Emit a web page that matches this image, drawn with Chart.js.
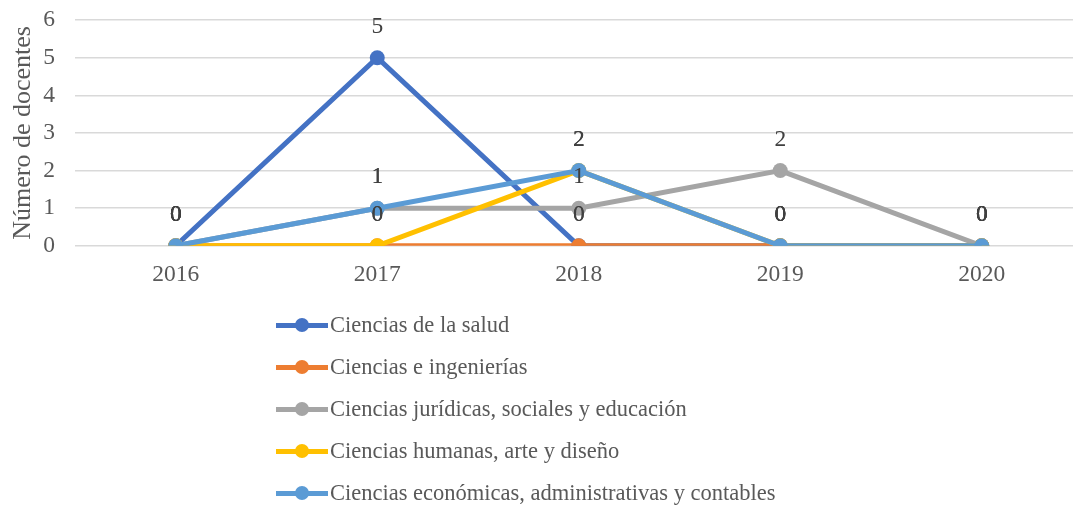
<!DOCTYPE html>
<html>
<head>
<meta charset="utf-8">
<script src="https://cdn.jsdelivr.net/npm/chart.js@4/dist/chart.umd.min.js"></script>
<style>
    body { margin: 0; overflow: hidden; background: #fff; }
    #wrap { position: relative; width: 1090px; height: 506px; }
    #grafico { position: absolute; left: 0; top: -14px; }
    #leyenda { position: absolute; left: 276px; top: 304px; font-family: "Liberation Serif", "Times New Roman", serif; font-size: 22.5px; color: #595959; }
    .item { height: 42px; display: flex; align-items: center; }
    .muestra { position: relative; width: 52px; height: 5px; margin-right: 2px; }
    .muestra i { position: absolute; left: 19px; top: -4.5px; width: 14px; height: 14px; border-radius: 50%; }
</style>
</head>
<body>
<div id="wrap">
    <canvas id="grafico" width="1090" height="520"></canvas>
    <div id="leyenda"></div>
</div>
<script>
const anios = ['2016', '2017', '2018', '2019', '2020'];
const nombres = ['Ciencias de la salud', 'Ciencias e ingenierías', 'Ciencias jurídicas, sociales y educación', 'Ciencias humanas, arte y diseño', 'Ciencias económicas, administrativas y contables'];
const colores = ['#4472C4', '#ED7D31', '#A5A5A5', '#FFC000', '#5B9BD5'];
const salud = [0, 5, 0, 0, 0];
const ingenierias = [0, 0, 0, 0, 0];
const juridicas = [0, 1, 1, 2, 0];
const humanas = [0, 0, 2, 0, 0];
const economicas = [0, 1, 2, 0, 0];
const yTicks = [0, 1, 2, 3, 4, 5, 6];

const series = [salud, ingenierias, juridicas, humanas, economicas];
const fuente = '"Liberation Serif", "Times New Roman", serif';

// etiquetas de datos encima de cada punto (no hay plugin datalabels)
const etiquetas = {
    id: 'etiquetas',
    afterDatasetsDraw(chart) {
        const ctx = chart.ctx;
        ctx.save();
        ctx.font = '23.5px ' + fuente;
        ctx.fillStyle = '#404040';
        ctx.textAlign = 'center';
        ctx.textBaseline = 'middle';
        chart.data.datasets.forEach((ds, i) => {
            chart.getDatasetMeta(i).data.forEach((p, j) => {
                ctx.fillText(ds.data[j], p.x, p.y - 31);
            });
        });
        ctx.restore();
    }
};

new Chart(document.getElementById('grafico'), {
    type: 'line',
    data: {
        labels: anios,
        datasets: series.map((d, i) => ({
            label: nombres[i],
            data: d,
            borderColor: colores[i],
            backgroundColor: colores[i],
            borderWidth: 5,
            pointRadius: 7.5,
            pointBorderWidth: 0,
            tension: 0,
            order: series.length - i
        }))
    },
    options: {
        responsive: false,
        animation: false,
        layout: { padding: { top: 5, right: 5, bottom: 210, left: 0 } },
        plugins: { legend: { display: false }, tooltip: { enabled: false } },
        scales: {
            x: {
                offset: true,
                grid: { display: false },
                border: { display: false },
                ticks: { color: '#595959', font: { family: fuente, size: 23.5 }, padding: 7 }
            },
            y: {
                min: 0, max: 6,
                afterFit(s) { s.width = 75; },
                afterBuildTicks(s) { s.ticks = yTicks.map(v => ({ value: v })); },
                grid: { color: '#d9d9d9', lineWidth: 1.5, drawTicks: false },
                border: { display: false },
                ticks: { color: '#595959', font: { family: fuente, size: 23.5 }, padding: 20 },
                title: { display: true, text: 'Número de docentes', color: '#595959', font: { family: fuente, size: 26 }, padding: { top: 8, bottom: 0 } }
            }
        }
    },
    plugins: [etiquetas]
});

document.getElementById('leyenda').innerHTML = nombres.map((n, i) => `
    <div class="item">
        <span class="muestra" style="background:${colores[i]}"><i style="background:${colores[i]}"></i></span>${n}
    </div>
`).join('');
</script>
</body>
</html>
